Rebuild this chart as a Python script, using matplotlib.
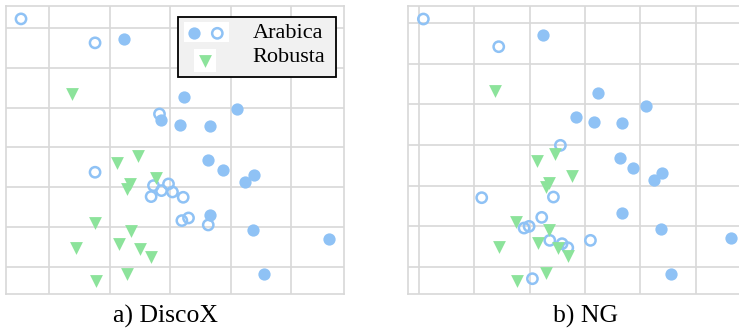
import matplotlib
matplotlib.use("Agg")
import matplotlib.pyplot as plt
from matplotlib.patches import Rectangle

# Arabica samples that are identified in both embeddings (filled)
arabica_fixed_x = [2.234, 3.230, 4.105, 2.847, 3.164, 3.665, 3.633, 3.875, 4.392, 4.243, 3.665, 4.367, 5.636, 4.560]
arabica_fixed_y = [6.710, 5.270, 4.967, 4.681, 4.561, 4.549, 3.684, 3.430, 3.310, 3.128, 2.321, 1.923, 1.712, 0.826]

# Robusta samples
robusta_x = [1.376, 2.465, 2.130, 2.772, 2.344, 2.289, 1.756, 2.358, 2.153, 1.445, 2.510, 2.692, 2.289, 1.777]
robusta_y = [5.343, 3.787, 3.617, 3.236, 3.074, 2.963, 2.114, 1.915, 1.580, 1.476, 1.460, 1.269, 0.843, 0.656]

# Arabica samples placed by each method (open)
discox_open_x = [0.537, 1.761, 2.826, 1.761, 2.727, 2.975, 2.859, 3.041, 2.688, 3.218, 3.196, 3.306, 3.632]
discox_open_y = [7.220, 6.620, 4.840, 3.380, 3.045, 3.087, 2.920, 2.886, 2.770, 2.753, 2.169, 2.235, 2.060]
ng_open_x = [0.084, 1.444, 2.557, 1.137, 2.431, 2.220, 1.901, 1.992, 2.365, 2.587, 2.690, 3.099, 2.052]
ng_open_y = [7.105, 6.423, 3.991, 2.701, 2.717, 2.216, 1.953, 1.994, 1.649, 1.567, 1.468, 1.649, 0.704]

captions = ["a) DiscoX", "b) NG"]
legend_labels = ["Arabica", "Robusta"]

BLUE = "#8fc2f5"
GREEN = "#8ce39b"
GRID = "#d8d8d8"
SERIF = ["Liberation Serif", "DejaVu Serif"]

S_FILLED = 78
S_OPEN = 55
LW_OPEN = 1.8
S_TRI = 85

W, H = 739, 329
fig = plt.figure(figsize=(W / 100, H / 100), dpi=100)
fig.patch.set_facecolor("white")


def fx(px):
    return px / W


def fy(py):
    return 1 - py / H


def make_axes(left, right, top, bottom, xlim, ylim, xticks, yticks):
    ax = fig.add_axes([fx(left), fy(bottom), (right - left) / W, (bottom - top) / H])
    ax.set_xlim(*xlim)
    ax.set_ylim(*ylim)
    ax.set_xticks(xticks)
    ax.set_yticks(yticks)
    ax.tick_params(length=0, labelbottom=False, labelleft=False)
    ax.grid(True, color=GRID, linewidth=1.2)
    ax.set_axisbelow(True)
    for sp in ax.spines.values():
        sp.set_color(GRID)
        sp.set_linewidth(1.2)
    return ax


def draw_points(ax, ox, oy):
    ax.scatter(ox, oy, s=S_OPEN, facecolors="none", edgecolors=BLUE, linewidths=LW_OPEN, zorder=3)
    ax.scatter(robusta_x, robusta_y, s=S_TRI, marker="v", color=GREEN, linewidths=0, zorder=4)
    ax.scatter(arabica_fixed_x, arabica_fixed_y, s=S_FILLED, color=BLUE, linewidths=0, zorder=5)


ax1 = make_axes(6, 344, 6, 294, (0.289, 5.876), (0.331, 7.543), [1, 2, 3, 4, 5], [1, 2, 3, 4, 5, 6, 7])
draw_points(ax1, discox_open_x, discox_open_y)

ax2 = make_axes(408.3, 739, 6, 294, (-0.188, 5.78), (0.327, 7.426), [0, 1, 2, 3, 4, 5], [1, 2, 3, 4, 5, 6, 7])
ax2.spines["right"].set_visible(False)
draw_points(ax2, ng_open_x, ng_open_y)

# Legend box in the first panel
tf = fig.transFigure
ax1.add_patch(Rectangle((fx(178), fy(77)), (336 - 178) / W, (77 - 17) / H,
                        transform=tf, facecolor="#f1f1f1", edgecolor="black",
                        linewidth=1.3, clip_on=False, zorder=10))
ax1.add_patch(Rectangle((fx(184), fy(42)), (229 - 184) / W, (42 - 22) / H,
                        transform=tf, facecolor="white", edgecolor="none",
                        clip_on=False, zorder=11))
ax1.add_patch(Rectangle((fx(194), fy(72)), (216 - 194) / W, (72 - 49) / H,
                        transform=tf, facecolor="white", edgecolor="none",
                        clip_on=False, zorder=11))
ax1.scatter([fx(194.3)], [fy(33.3)], s=S_FILLED, color=BLUE, linewidths=0,
            transform=tf, clip_on=False, zorder=12)
ax1.scatter([fx(217.3)], [fy(33.3)], s=S_OPEN, facecolors="none", edgecolors=BLUE,
            linewidths=LW_OPEN, transform=tf, clip_on=False, zorder=12)
ax1.scatter([fx(205)], [fy(60.5)], s=S_TRI, marker="v", color=GREEN, linewidths=0,
            transform=tf, clip_on=False, zorder=12)
fig.text(fx(252.5), fy(33.5), legend_labels[0], family=SERIF, fontsize=16,
         ha="left", va="center", zorder=13)
fig.text(fx(252.5), fy(57), legend_labels[1], family=SERIF, fontsize=16,
         ha="left", va="center", zorder=13)

# Panel captions
fig.text(fx(165.4), fy(323), captions[0], family=SERIF, fontsize=18.5,
         ha="center", va="baseline")
fig.text(fx(585.7), fy(323), captions[1], family=SERIF, fontsize=18.5,
         ha="center", va="baseline")

fig.savefig("out.png", dpi=100, facecolor="white")
